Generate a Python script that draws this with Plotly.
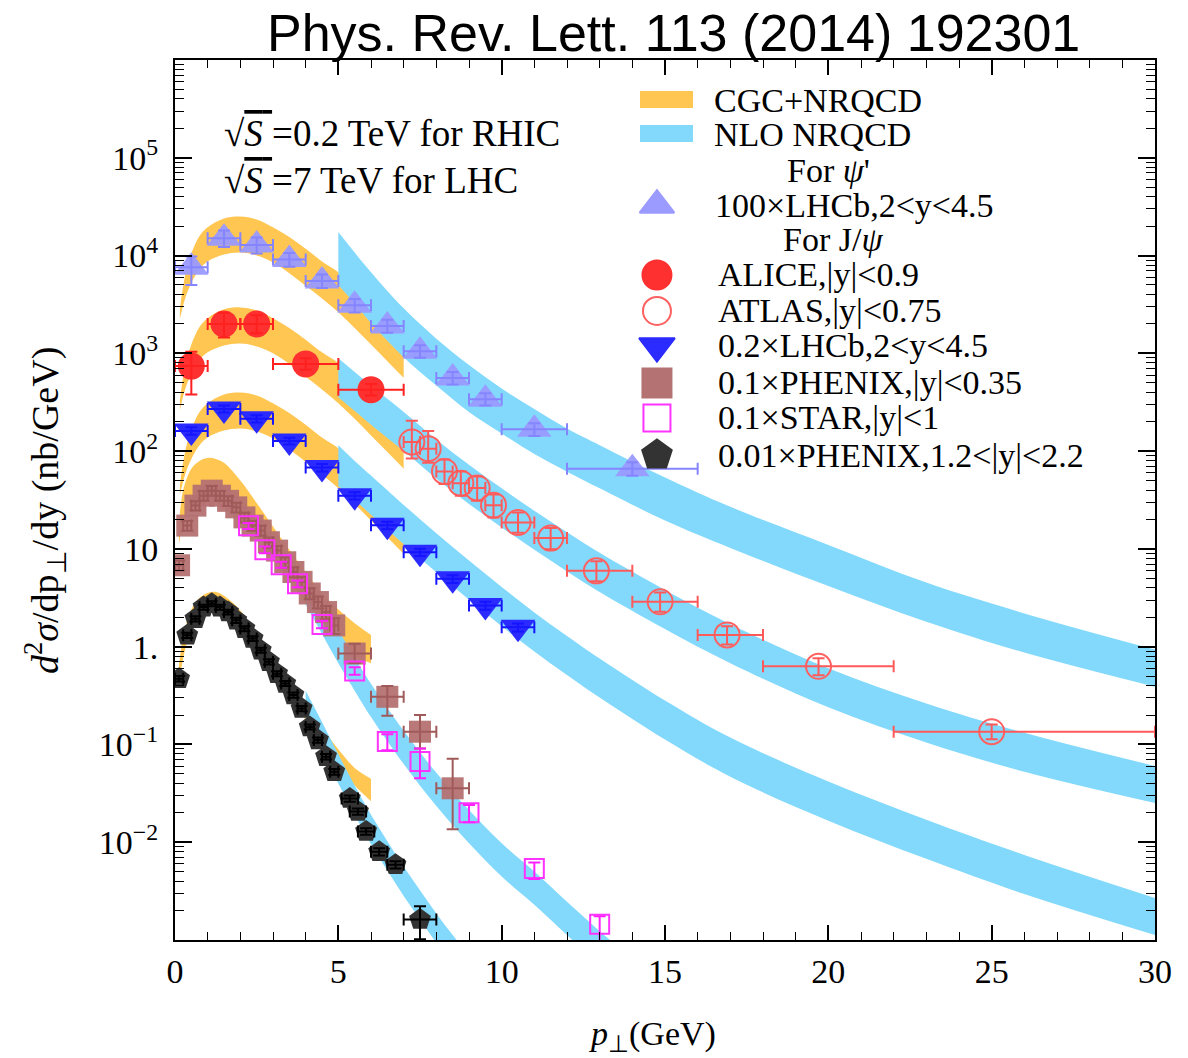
import plotly.graph_objects as go

# ---------------- measured spectra ----------------
# psi(2S), LHCb 7 TeV, 2<y<4.5, scaled x100
psi2s_pt = [0.5, 1.5, 2.5, 3.5, 4.5, 5.5, 6.5, 7.5, 8.5, 9.5, 11, 14]
psi2s_dpt = [0.5, 0.5, 0.5, 0.5, 0.5, 0.5, 0.5, 0.5, 0.5, 0.5, 1, 2]
psi2s_val = [7600, 15000, 12800, 9100, 5500, 3100, 1900, 1050, 560, 340, 167, 66]
psi2s_up = [2200, 3000, 2500, 1500, 900, 500, 300, 160, 85, 50, 26, 11]
psi2s_dn = [2600, 2800, 2300, 1400, 850, 480, 280, 150, 80, 48, 24, 10]

# J/psi, ALICE 7 TeV, |y|<0.9
alice_pt = [0.5, 1.5, 2.5, 4, 6]
alice_dpt = [0.5, 0.5, 0.5, 1, 1]
alice_val = [740, 2000, 2000, 780, 425]
alice_up = [300, 600, 450, 110, 60]
alice_dn = [360, 550, 400, 100, 55]

# J/psi, ATLAS 7 TeV, |y|<0.75
atlas_pt = [7.25, 7.75, 8.25, 8.75, 9.25, 9.75, 10.5, 11.5, 12.9, 14.85, 16.9, 19.7, 25]
atlas_bin_lo = [7, 7.5, 8, 8.5, 9, 9.5, 10, 11, 12, 14, 16, 18, 22]
atlas_bin_hi = [7.5, 8, 8.5, 9, 9.5, 10, 11, 12, 14, 16, 18, 22, 30]
atlas_val = [124, 106, 62, 47, 42, 28, 18.6, 12.9, 5.96, 2.88, 1.32, 0.63, 0.135]
atlas_up = [80, 55, 20, 15, 13, 8, 5, 3.5, 1.5, 0.7, 0.3, 0.13, 0.025]
atlas_dn = [40, 30, 16, 12, 11, 7, 4, 3, 1.3, 0.6, 0.27, 0.12, 0.022]

# J/psi, LHCb 7 TeV, 2<y<4.5, scaled x0.2
lhcb_pt = [0.5, 1.5, 2.5, 3.5, 4.5, 5.5, 6.5, 7.5, 8.5, 9.5, 10.5]
lhcb_dpt = [0.5] * 11
lhcb_val = [161, 270, 214, 127, 68, 35, 17.4, 9.25, 4.94, 2.63, 1.58]
lhcb_err = [14, 22, 18, 10, 6, 3, 1.5, 0.8, 0.45, 0.25, 0.15]

# J/psi, PHENIX 200 GeV, |y|<0.35, scaled x0.1
phxm_pt = [0.125, 0.375, 0.625, 0.875, 1.125, 1.375, 1.625, 1.875, 2.125, 2.375,
           2.625, 2.875, 3.125, 3.375, 3.625, 3.875, 4.125, 4.375, 4.625, 4.875,
           5.5, 6.5, 7.5, 8.5]
phxm_dpt = [0.125] * 20 + [0.5, 0.5, 0.5, 0.5]
phxm_val = [6.8, 17.3, 27.7, 35, 39.4, 35, 31, 26.6, 21, 17.3,
            15.4, 11.7, 9.6, 7.3, 5.8, 4.6, 3.5, 2.86, 2.26, 1.65,
            0.85, 0.307, 0.135, 0.0356]
phxm_up = [0.8, 2, 3, 4, 4.5, 4, 3.5, 3, 2.4, 2, 1.8, 1.4, 1.1, 0.9, 0.7, 0.55, 0.45,
           0.4, 0.35, 0.3, 0.22, 0.09, 0.065, 0.036]
phxm_dn = [0.8, 2, 3, 4, 4.5, 4, 3.5, 3, 2.4, 2, 1.8, 1.4, 1.1, 0.9, 0.7, 0.55, 0.45,
           0.4, 0.35, 0.3, 0.17, 0.11, 0.044, 0.022]

# J/psi, STAR 200 GeV, |y|<1, scaled x0.1
star_pt = [2.25, 2.75, 3.25, 3.75, 4.5, 5.5, 6.5, 7.5, 9, 11, 13]
star_val = [17.2, 9.8, 6.9, 4.4, 1.69, 0.565, 0.107, 0.067, 0.020, 0.0054, 0.00145]
star_up = [1.2, 0.8, 0.5, 0.35, 0.15, 0.05, 0.02, 0.024, 0.004, 0.0008, 0.0003]
star_dn = [1.2, 0.8, 0.5, 0.35, 0.15, 0.05, 0.02, 0.022, 0.004, 0.0012, 0.0005]

# J/psi, PHENIX 200 GeV, 1.2<|y|<2.2, scaled x0.01
phxf_pt = [0.125, 0.375, 0.625, 0.875, 1.125, 1.375, 1.625, 1.875, 2.125, 2.375,
           2.625, 2.875, 3.125, 3.375, 3.625, 3.875, 4.125, 4.375, 4.625, 4.875,
           5.35, 5.6, 5.85, 6.25, 6.75, 7.5]
phxf_dpt = [0.125] * 20 + [0.25, 0.25, 0.25, 0.25, 0.25, 0.5]
phxf_val = [0.47, 1.31, 1.93, 2.54, 2.75, 2.54, 2.26, 1.86, 1.53, 1.21,
            0.92, 0.70, 0.53, 0.42, 0.32, 0.233, 0.151, 0.111, 0.075, 0.0526,
            0.028, 0.0206, 0.0129, 0.008, 0.0059, 0.00162]
phxf_err = [0.03, 0.08, 0.12, 0.15, 0.16, 0.15, 0.13, 0.11, 0.09, 0.07,
            0.055, 0.042, 0.032, 0.025, 0.019, 0.014, 0.009, 0.007, 0.005, 0.0035,
            0.002, 0.0015, 0.001, 0.0007, 0.0005, 0.0006]

# ---------------- theory bands (log10 of lower / upper edge) ----------------
cgc_lhc_pt = [0.15, 0.3, 0.5, 0.75, 1, 1.5, 2, 2.5, 3, 3.5, 4, 4.5, 5, 5.5, 6, 6.5, 7]
cgc_psi2s_lo = [3.35, 3.55, 3.72, 3.86, 3.94, 4.01, 4.03, 4.00, 3.93, 3.82, 3.69, 3.56, 3.42, 3.26, 3.09, 2.92, 2.75]
cgc_psi2s_hi = [3.45, 3.78, 4.02, 4.20, 4.29, 4.38, 4.40, 4.37, 4.29, 4.19, 4.07, 3.94, 3.83, 3.67, 3.50, 3.34, 3.17]
cgc_alice_lo = [2.42, 2.62, 2.79, 2.93, 3.01, 3.08, 3.10, 3.07, 3.00, 2.89, 2.76, 2.63, 2.49, 2.33, 2.16, 1.99, 1.82]
cgc_alice_hi = [2.52, 2.85, 3.09, 3.27, 3.36, 3.45, 3.47, 3.44, 3.36, 3.26, 3.14, 3.01, 2.90, 2.74, 2.57, 2.41, 2.24]
cgc_lhcb_lo = [1.55, 1.75, 1.92, 2.06, 2.14, 2.21, 2.23, 2.20, 2.13, 2.02, 1.89, 1.76, 1.62, 1.46, 1.29, 1.12, 0.95]
cgc_lhcb_hi = [1.65, 1.98, 2.22, 2.40, 2.49, 2.58, 2.60, 2.57, 2.49, 2.39, 2.27, 2.14, 2.03, 1.87, 1.70, 1.54, 1.37]

cgc_rhic_pt = [0.12, 0.25, 0.5, 0.75, 1, 1.25, 1.5, 2, 2.5, 3, 3.5, 4, 4.5, 5, 5.5, 6]
cgc_phxm_lo = [1.05, 1.25, 1.42, 1.50, 1.52, 1.51, 1.48, 1.36, 1.16, 0.93, 0.68, 0.43, 0.19, -0.02, -0.10, -0.17]
cgc_phxm_hi = [1.25, 1.60, 1.82, 1.90, 1.93, 1.92, 1.88, 1.70, 1.47, 1.23, 0.99, 0.76, 0.55, 0.38, 0.24, 0.12]
cgc_phxf_lo = [-0.40, -0.12, 0.18, 0.32, 0.38, 0.40, 0.37, 0.22, 0.00, -0.25, -0.50, -0.75, -1.00, -1.22, -1.42, -1.58]
cgc_phxf_hi = [-0.20, 0.10, 0.38, 0.50, 0.55, 0.56, 0.52, 0.37, 0.13, -0.13, -0.38, -0.60, -0.83, -1.05, -1.24, -1.35]

nlo_lhc_pt = [5, 5.5, 6, 7, 8, 9, 10, 11, 12, 13, 15, 17, 20, 23, 26, 30]
nlo_psi2s_lo = [3.70, 3.51, 3.31, 2.96, 2.67, 2.40, 2.18, 1.97, 1.79, 1.62, 1.29, 1.01, 0.62, 0.255, -0.06, -0.41]
nlo_psi2s_hi = [4.24, 4.03, 3.83, 3.46, 3.15, 2.88, 2.64, 2.43, 2.23, 2.06, 1.73, 1.43, 1.04, 0.655, 0.34, -0.03]
nlo_central_lo = [2.55, 2.41, 2.27, 2.00, 1.72, 1.46, 1.22, 0.99, 0.77, 0.56, 0.18, -0.17, -0.62, -0.98, -1.28, -1.60]
nlo_central_hi = [2.95, 2.81, 2.67, 2.40, 2.12, 1.86, 1.62, 1.39, 1.17, 0.96, 0.58, 0.23, -0.22, -0.58, -0.88, -1.22]
nlo_lhcb_lo = [1.64, 1.50, 1.35, 1.05, 0.76, 0.48, 0.21, -0.05, -0.29, -0.52, -0.95, -1.33, -1.78, -2.17, -2.53, -2.95]
nlo_lhcb_hi = [2.06, 1.90, 1.75, 1.45, 1.16, 0.88, 0.61, 0.35, 0.11, -0.12, -0.55, -0.93, -1.38, -1.77, -2.13, -2.57]

nlo_phxm_pt = [4, 4.5, 5, 5.5, 6, 7, 8, 9, 10, 11, 12, 13, 14]
nlo_phxm_lo = [0.43, 0.13, -0.17, -0.45, -0.72, -1.20, -1.63, -2.01, -2.35, -2.64, -2.95, -3.25, -3.53]
nlo_phxm_hi = [0.77, 0.47, 0.17, -0.11, -0.38, -0.86, -1.29, -1.67, -2.01, -2.30, -2.61, -2.91, -3.19]
nlo_phxf_pt = [4, 4.5, 5, 5.5, 6, 6.5, 7, 7.5, 8, 8.5, 9]
nlo_phxf_lo = [-0.75, -1.07, -1.40, -1.72, -2.02, -2.29, -2.55, -2.79, -3.03, -3.25, -3.45]
nlo_phxf_hi = [-0.45, -0.77, -1.10, -1.42, -1.72, -1.99, -2.25, -2.49, -2.73, -2.95, -3.15]

# ---------------- styling ----------------
ORANGE = "#FFC652"
SKY = "#82D9FC"
SERIF = "Liberation Serif"

fig = go.Figure()


def band(pt, lo, hi, color):
    fig.add_trace(go.Scatter(x=pt, y=[10 ** v for v in lo], mode="lines",
                             line=dict(width=0, shape="spline", color=color),
                             hoverinfo="skip", showlegend=False))
    fig.add_trace(go.Scatter(x=pt, y=[10 ** v for v in hi], mode="lines",
                             line=dict(width=0, shape="spline", color=color),
                             fill="tonexty", fillcolor=color,
                             hoverinfo="skip", showlegend=False))


for lo, hi in [(cgc_psi2s_lo, cgc_psi2s_hi), (cgc_alice_lo, cgc_alice_hi), (cgc_lhcb_lo, cgc_lhcb_hi)]:
    band(cgc_lhc_pt, lo, hi, ORANGE)
for lo, hi in [(cgc_phxm_lo, cgc_phxm_hi), (cgc_phxf_lo, cgc_phxf_hi)]:
    band(cgc_rhic_pt, lo, hi, ORANGE)
for lo, hi in [(nlo_psi2s_lo, nlo_psi2s_hi), (nlo_central_lo, nlo_central_hi), (nlo_lhcb_lo, nlo_lhcb_hi)]:
    band(nlo_lhc_pt, lo, hi, SKY)
band(nlo_phxm_pt, nlo_phxm_lo, nlo_phxm_hi, SKY)
band(nlo_phxf_pt, nlo_phxf_lo, nlo_phxf_hi, SKY)


def points(pt, val, symbol, size, fill, edge, ecolor, up, dn,
           dpt_lo=None, dpt_hi=None, opacity=1.0, lw=0):
    fig.add_trace(go.Scatter(
        x=pt, y=val, mode="markers", showlegend=False, hoverinfo="skip",
        marker=dict(symbol=symbol, size=size, color=fill, opacity=opacity,
                    line=dict(color=edge, width=lw))))
    ex = None
    if dpt_lo is not None:
        ex = dict(type="data", symmetric=False, array=dpt_hi, arrayminus=dpt_lo,
                  color=ecolor, thickness=2, width=6)
    fig.add_trace(go.Scatter(
        x=pt, y=val, mode="markers", showlegend=False, hoverinfo="skip",
        marker=dict(size=1, color="rgba(0,0,0,0)"),
        error_y=dict(type="data", symmetric=False, array=up, arrayminus=dn,
                     color=ecolor, thickness=2, width=6),
        error_x=ex))


atlas_dlo = [p - a for p, a in zip(atlas_pt, atlas_bin_lo)]
atlas_dhi = [b - p for p, b in zip(atlas_pt, atlas_bin_hi)]

points(phxm_pt, phxm_val, "square", 22, "#B57272", "#B57272", "#A05A5A",
       phxm_up, phxm_dn, phxm_dpt, phxm_dpt, opacity=0.95)
points(star_pt, star_val, "square-open", 19, "#FF33FF", "#FF33FF", "#FF22FF",
       star_up, star_dn, lw=2)
points(phxf_pt, phxf_val, "pentagon", 23, "#333333", "#333333", "#000000",
       phxf_err, phxf_err, phxf_dpt, phxf_dpt)
points(psi2s_pt, psi2s_val, "triangle-up", 30, "#9A9AFF", "#9A9AFF", "#8585FF",
       psi2s_up, psi2s_dn, psi2s_dpt, psi2s_dpt, opacity=0.95)
points(alice_pt, alice_val, "circle", 27, "#FF3030", "#FF3030", "#FF2020",
       alice_up, alice_dn, alice_dpt, alice_dpt)
points(atlas_pt, atlas_val, "circle-open", 25, "#FF6060", "#FF6060", "#FF5A5A",
       atlas_up, atlas_dn, atlas_dlo, atlas_dhi, lw=2)
points(lhcb_pt, lhcb_val, "triangle-down", 30, "#2B2BFF", "#2B2BFF", "#1515FF",
       lhcb_err, lhcb_err, lhcb_dpt, lhcb_dpt)

# ---------------- legend keys (overlay axes in unit coordinates) ----------------
key_y = [0.835, 0.7557, 0.7148, 0.675, 0.633, 0.5932, 0.5511]
key_sym = ["triangle-up", "circle", "circle-open", "triangle-down", "square", "square-open", "pentagon"]
key_col = ["#9A9AFF", "#FF3030", "#FF6060", "#2B2BFF", "#B57272", "#FF33FF", "#333333"]
key_size = [30, 29, 28, 31, 29, 27, 31]
for yk, s, c, sz in zip(key_y, key_sym, key_col, key_size):
    fig.add_trace(go.Scatter(x=[0.4918], y=[yk], xaxis="x2", yaxis="y2", mode="markers",
                             showlegend=False, hoverinfo="skip",
                             marker=dict(symbol=s, size=sz, color=c, line=dict(color=c, width=2))))

fig.add_shape(type="rect", xref="paper", yref="paper", x0=0.4745, x1=0.5286, y0=0.9455, y1=0.9648,
              fillcolor=ORANGE, line=dict(width=0))
fig.add_shape(type="rect", xref="paper", yref="paper", x0=0.4745, x1=0.5286, y0=0.9068, y1=0.9261,
              fillcolor=SKY, line=dict(width=0))

legend_rows = [
    (0.548, 0.9545, "CGC+NRQCD"),
    (0.548, 0.9159, "NLO NRQCD"),
    (0.6224, 0.875, "For <i>ψ</i>'"),
    (0.549, 0.8352, "100×LHCb,2<y<4.5"),
    (0.618, 0.7955, "For J/<i>ψ</i>"),
    (0.552, 0.7557, "ALICE,|y|<0.9"),
    (0.552, 0.7148, "ATLAS,|y|<0.75"),
    (0.552, 0.675, "0.2×LHCb,2<y<4.5"),
    (0.552, 0.633, "0.1×PHENIX,|y|<0.35"),
    (0.552, 0.5932, "0.1×STAR,|y|<1"),
    (0.552, 0.5511, "0.01×PHENIX,1.2<|y|<2.2"),
]
annotations = []
for xa, ya, t in legend_rows:
    annotations.append(dict(x=xa, y=ya, xref="paper", yref="paper", text=t, showarrow=False,
                            xanchor="left", yanchor="middle",
                            font=dict(family=SERIF, size=34, color="black")))

for ya, t in [(0.917, "0.2 TeV for RHIC"), (0.8636, "7 TeV for LHC")]:
    annotations.append(dict(
        x=0.048, y=ya, xref="paper", yref="paper", showarrow=False,
        xanchor="left", yanchor="middle",
        text="√<span style='text-decoration:overline'><i>S</i> </span>=" + t,
        font=dict(family=SERIF, size=37, color="black")))

annotations.append(dict(x=0.509, y=1.031, xref="paper", yref="paper", showarrow=False,
                        xanchor="center", yanchor="middle",
                        text="Phys. Rev. Lett. 113 (2014) 192301",
                        font=dict(family="Liberation Sans", size=52, color="black")))
annotations.append(dict(x=-0.1327, y=0.4886, xref="paper", yref="paper", showarrow=False,
                        xanchor="center", yanchor="middle", textangle=-90,
                        text="<i>d</i><sup>2</sup><i>σ</i>/dp<sub>⊥</sub>/dy (nb/GeV)",
                        font=dict(family=SERIF, size=38, color="black")))
annotations.append(dict(x=0.487, y=-0.109, xref="paper", yref="paper", showarrow=False,
                        xanchor="center", yanchor="middle",
                        text="<i>p</i><sub>⊥</sub>(GeV)",
                        font=dict(family=SERIF, size=34, color="black")))

# ---------------- axes ----------------
y_major = [1e-2, 1e-1, 1, 10, 1e2, 1e3, 1e4, 1e5]
y_labels = ["10<sup>−2</sup>", "10<sup>−1</sup>", "1.", "10", "10<sup>2</sup>",
            "10<sup>3</sup>", "10<sup>4</sup>", "10<sup>5</sup>"]
y_minor = [k * 10.0 ** n for n in range(-3, 6) for k in range(2, 10)]

fig.update_layout(
    width=1188, height=1058,
    margin=dict(l=175, r=33, t=60, b=118),
    paper_bgcolor="white", plot_bgcolor="white",
    showlegend=False,
    annotations=annotations,
    xaxis=dict(range=[0, 30], tickvals=[0, 5, 10, 15, 20, 25, 30],
               ticks="inside", ticklen=15, tickwidth=1.5, tickcolor="black",
               minor=dict(dtick=1, ticks="inside", ticklen=8, tickwidth=1.2, tickcolor="black"),
               showline=True, linecolor="black", linewidth=2, mirror="allticks",
               showgrid=False, zeroline=False, ticklabelstandoff=0,
               tickfont=dict(family=SERIF, size=34, color="black")),
    yaxis=dict(type="log", range=[-3, 6], tickvals=y_major, ticktext=y_labels,
               ticks="inside", ticklen=17, tickwidth=1.5, tickcolor="black",
               minor=dict(tickvals=y_minor, ticks="inside", ticklen=9, tickwidth=1.2, tickcolor="black"),
               showline=True, linecolor="black", linewidth=2, mirror="allticks",
               showgrid=False, zeroline=False, ticklabelstandoff=8,
               tickfont=dict(family=SERIF, size=34, color="black")),
    xaxis2=dict(overlaying="x", range=[0, 1], visible=False),
    yaxis2=dict(overlaying="y", range=[0, 1], visible=False),
)

fig.write_html("out.html")
